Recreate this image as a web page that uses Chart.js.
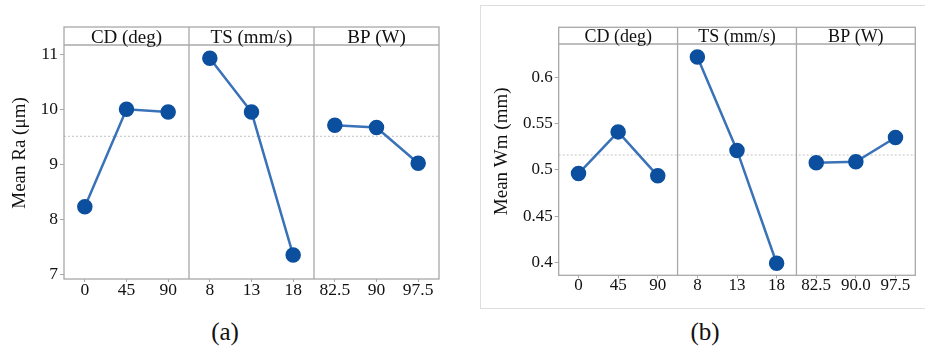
<!DOCTYPE html>
<html><head><meta charset="utf-8">
<script src="https://cdn.jsdelivr.net/npm/chart.js@4"></script>
<style>
html,body{margin:0;padding:0;background:#fff;}
#wrap{position:relative;width:925px;height:349px;overflow:hidden;font-family:'Liberation Serif','Times New Roman',serif;}
#boxA{position:absolute;left:0;top:0;width:460px;height:300px;}
#boxB{position:absolute;left:460px;top:0;width:465px;height:300px;}
#frameB{position:absolute;left:480px;top:5px;width:470px;height:304px;border:1.5px solid #dedede;box-sizing:border-box;}
.cap{position:absolute;font-size:25px;line-height:26px;color:#111;transform:translateX(-50%);top:319px;}
</style></head>
<body>
<div id="wrap">
  <div id="frameB"></div>
  <div id="boxA"><canvas id="chartA"></canvas></div>
  <div id="boxB"><canvas id="chartB"></canvas></div>
  <div class="cap" style="left:225px;">(a)</div>
  <div class="cap" style="left:705px;">(b)</div>
</div>
<script>
// ---- data ----
const factorNames = ['CD (deg)', 'TS (mm/s)', 'BP (W)'];
const cdLevels = ['0', '45', '90'];
const tsLevels = ['8', '13', '18'];
const bpLevelsA = ['82.5', '90', '97.5'];
const bpLevelsB = ['82.5', '90.0', '97.5'];

const raCD = [8.23, 10.00, 9.95];
const raTS = [10.93, 9.95, 7.35];
const raBP = [9.71, 9.67, 9.02];
const raMean = 9.51;
const raTicks = [7, 8, 9, 10, 11];
const raTickLabels = ['7', '8', '9', '10', '11'];

const wmCD = [0.496, 0.541, 0.4935];
const wmTS = [0.622, 0.521, 0.399];
const wmBP = [0.5076, 0.5087, 0.535];
const wmMean = 0.516;
const wmTicks = [0.4, 0.45, 0.5, 0.55, 0.6];
const wmTickLabels = ['0.4', '0.45', '0.5', '0.55', '0.6'];

// ---- helpers ----
const FONT = "'Liberation Serif', 'Times New Roman', serif";
const LINE_COLOR = '#3a72b8';
const POINT_COLOR = '#0b4f9e';
const FRAME_COLOR = '#a8a8a8';

function groupData(vals, g, n) {
  const d = new Array(n).fill(null);
  vals.forEach((v, i) => { d[g * vals.length + i] = v; });
  return d;
}

const panelPlugin = {
  id: 'panels',
  beforeDatasetsDraw(chart, args, opts) {
    const { ctx, chartArea: a, scales: { x, y } } = chart;
    const top = a.top - opts.headerH;
    ctx.save();
    // grand mean reference line
    const my = y.getPixelForValue(opts.mean);
    ctx.strokeStyle = '#c2c2c2';
    ctx.lineWidth = 1;
    ctx.setLineDash([2, 2]);
    ctx.beginPath(); ctx.moveTo(a.left, my); ctx.lineTo(a.right, my); ctx.stroke();
    ctx.setLineDash([]);
    // frame
    ctx.strokeStyle = FRAME_COLOR;
    ctx.lineWidth = 1.3;
    ctx.strokeRect(a.left, top, a.right - a.left, a.bottom - top);
    ctx.beginPath(); ctx.moveTo(a.left, a.top); ctx.lineTo(a.right, a.top); ctx.stroke();
    const groups = opts.groups;
    const per = chart.data.labels.length / groups.length;
    for (let g = 1; g < groups.length; g++) {
      const xp = (x.getPixelForValue(g * per - 1) + x.getPixelForValue(g * per)) / 2;
      ctx.beginPath(); ctx.moveTo(xp, top); ctx.lineTo(xp, a.bottom); ctx.stroke();
    }
    // header texts
    ctx.fillStyle = '#111';
    ctx.font = opts.headerSize + 'px ' + FONT;
    ctx.textAlign = 'center';
    ctx.textBaseline = 'alphabetic';
    groups.forEach((name, g) => {
      const cx = x.getPixelForValue(g * per + (per - 1) / 2);
      ctx.fillText(name, cx, a.top - opts.baseOff);
    });
    // y title
    ctx.translate(opts.titleX, (top + a.bottom) / 2);
    ctx.rotate(-Math.PI / 2);
    ctx.font = opts.titleSize + 'px ' + FONT;
    ctx.textBaseline = 'middle';
    ctx.fillText(opts.title, 0, 0);
    ctx.restore();
  }
};

function makeChart(id, o) {
  const labels = [...o.levels[0], ...o.levels[1], ...o.levels[2]];
  const n = labels.length;
  const datasets = o.series.map((vals, g) => ({
    data: groupData(vals, g, n),
    borderColor: LINE_COLOR,
    borderWidth: 2.5,
    pointBackgroundColor: POINT_COLOR,
    pointBorderColor: POINT_COLOR,
    pointBorderWidth: 1.5,
    pointRadius: 7,
    spanGaps: false,
    tension: 0
  }));
  return new Chart(document.getElementById(id), {
    type: 'line',
    data: { labels, datasets },
    options: {
      responsive: true,
      maintainAspectRatio: false,
      animation: false,
      events: [],
      layout: { padding: o.padding },
      plugins: {
        legend: { display: false },
        tooltip: { enabled: false },
        panels: {
          groups: factorNames, mean: o.mean, headerH: o.headerH, headerSize: o.headerSize,
          baseOff: o.baseOff, title: o.title, titleX: o.titleX, titleSize: 19
        }
      },
      scales: {
        x: {
          type: 'category',
          offset: true,
          grid: { display: true, offset: false, drawOnChartArea: false, drawTicks: true, tickLength: 3, color: FRAME_COLOR },
          border: { display: false },
          ticks: { font: { family: FONT, size: o.tickSize, lineHeight: 1 }, color: '#111', padding: o.xPad, maxRotation: 0, autoSkip: false },
          afterFit: s => { s.height = o.xHeight; }
        },
        y: {
          min: o.yMin, max: o.yMax,
          afterBuildTicks: s => { s.ticks = o.ticks.map(v => ({ value: v })); },
          grid: { drawOnChartArea: false, tickLength: 4, color: FRAME_COLOR },
          border: { display: false },
          ticks: { callback: (v, i) => o.tickLabels[i], font: { family: FONT, size: o.tickSize }, color: '#111', padding: 2 },
          afterFit: s => { s.width = o.yWidth; }
        }
      }
    },
    plugins: [panelPlugin]
  });
}

makeChart('chartA', {
  levels: [cdLevels, tsLevels, bpLevelsA],
  series: [raCD, raTS, raBP],
  mean: raMean,
  yMin: 6.915, yMax: 11.17,
  ticks: raTicks, tickLabels: raTickLabels,
  padding: { top: 45, right: 21, left: 0, bottom: 0 },
  xHeight: 21, yWidth: 64, xPad: 0,
  headerH: 18, headerSize: 19, baseOff: 2.5,
  tickSize: 17.5,
  title: 'Mean Ra (μm)', titleX: 20
});

makeChart('chartB', {
  levels: [cdLevels, tsLevels, bpLevelsB],
  series: [wmCD, wmTS, wmBP],
  mean: wmMean,
  yMin: 0.386, yMax: 0.636,
  ticks: wmTicks, tickLabels: wmTickLabels,
  padding: { top: 44, right: 9.7, left: 0, bottom: 0 },
  xHeight: 24.7, yWidth: 98.7, xPad: -1.5,
  headerH: 16.7, headerSize: 18, baseOff: 2.3,
  tickSize: 17,
  title: 'Mean Wm (mm)', titleX: 41.7
});
</script>
</body></html>
